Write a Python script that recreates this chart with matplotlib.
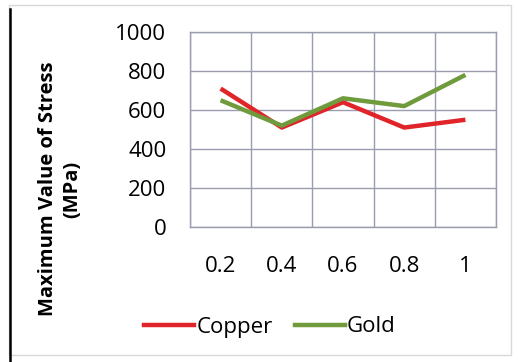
import numpy as np
import matplotlib.pyplot as plt
from matplotlib.lines import Line2D
from matplotlib.patches import Rectangle

plt.rcParams['font.family'] = ['Open Sans', 'DejaVu Sans']

ratios = ["0.2", "0.4", "0.6", "0.8", "1"]
copper = [710, 510, 640, 510, 550]
gold = [650, 520, 660, 620, 780]

fig = plt.figure(figsize=(5.19, 3.62), dpi=100)
ax = fig.add_axes([190 / 519, 1 - 227 / 362, 306 / 519, 195 / 362])

x = np.arange(len(ratios))
ax.plot(x, copper, color="#e0242a", lw=3.2, label="Copper", solid_capstyle="butt")
ax.plot(x, gold, color="#6f9b3d", lw=3.2, label="Gold", solid_capstyle="butt")

ax.set_xlim(-0.5, len(ratios) - 0.5)
ax.set_ylim(0, 1000)
ax.set_yticks(range(0, 1001, 200))
ax.set_xticks(x)
ax.set_xticklabels(ratios)
ax.set_xticks(np.arange(-0.5, len(ratios)), minor=True)
ax.tick_params(axis="x", which="major", length=0, pad=21, labelsize=16)
ax.tick_params(axis="x", which="minor", length=0)
ax.tick_params(axis="y", length=0, pad=17, labelsize=16)

ax.grid(True, axis="y", which="major", color="#9a9cb0", lw=1.0)
ax.grid(True, axis="x", which="minor", color="#9a9cb0", lw=1.0)
for s in ax.spines.values():
    s.set_color("#9a9cb0")
    s.set_linewidth(1.0)
ax.set_axisbelow(True)

fig.text(60 / 519, 1 - 189 / 362, "Maximum Value of Stress\n(MPa)", rotation=90,
         ha="center", va="center", fontsize=14.5, fontweight="bold", linespacing=1.3)

handles = [Line2D([], [], color="#e0242a", lw=3.2), Line2D([], [], color="#6f9b3d", lw=3.2)]
fig.legend(handles, ["Copper", "Gold"], loc="center", bbox_to_anchor=(270 / 519, 1 - 327 / 362),
           ncol=2, frameon=False, fontsize=16, handlelength=2.25, handletextpad=0.1,
           columnspacing=1.0)

# outer chart border
fig.patches.append(Rectangle((9 / 519, 0.02), 0.985 - 9 / 519, 0.965, transform=fig.transFigure,
                             fill=False, edgecolor="#d8d8d8", lw=1.0))
fig.lines.append(Line2D([10 / 519, 10 / 519], [0.0, 0.975], transform=fig.transFigure,
                        color="black", lw=1.8))

fig.savefig("out.png", dpi=100)
